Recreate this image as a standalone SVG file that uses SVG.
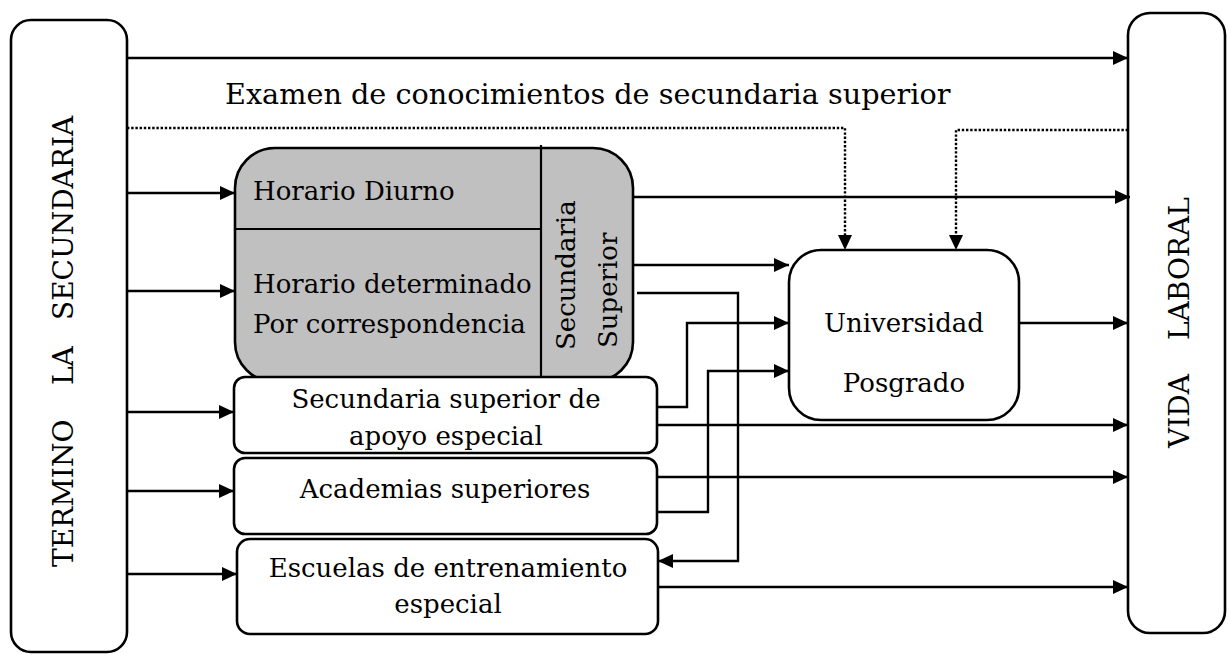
<svg xmlns="http://www.w3.org/2000/svg" width="1229" height="654" viewBox="0 0 1229 654">
<defs>
<marker id="ah" markerUnits="userSpaceOnUse" markerWidth="16" markerHeight="14" refX="15" refY="7" orient="auto">
<path d="M0,0 L15,7 L0,14 z" fill="#000"/>
</marker>
<style>
.box{fill:#fff;stroke:#000;stroke-width:2.6}
.gray{fill:#c0c0c0;stroke:#000;stroke-width:2.6}
.ln{fill:none;stroke:#000;stroke-width:2.2}
.arr{fill:none;stroke:#000;stroke-width:2.4;marker-end:url(#ah)}
.dot{fill:none;stroke:#000;stroke-width:2.4;stroke-dasharray:2.4 1.8}
.t{font-family:"DejaVu Serif","Liberation Serif",serif;font-size:26px;fill:#000}
.c{text-anchor:middle}
.big{font-size:28px}
</style>
</defs>
<rect width="1229" height="654" fill="#fff"/>

<g id="termino">
<rect class="box" x="11" y="20" width="116" height="632" rx="20"/>
<text class="t big" transform="translate(73,567) rotate(-90)"><tspan x="0">TERMINO</tspan> <tspan x="182">LA</tspan> <tspan x="247">SECUNDARIA</tspan></text>
</g>

<g id="vida-laboral">
<rect class="box" x="1128" y="13" width="97" height="620" rx="22"/>
<text class="t big" transform="translate(1189,448) rotate(-90)"><tspan x="0">VIDA</tspan> <tspan x="108">LABORAL</tspan></text>
</g>

<g id="examen-label">
<text class="t" x="225" y="104" style="font-size:28.7px">Examen de conocimientos de secundaria superior</text>
</g>

<g id="secundaria-superior">
<rect class="gray" x="235" y="148" width="398" height="234" rx="40"/>
<line class="ln" x1="541" y1="145" x2="541" y2="381"/>
<line class="ln" x1="235" y1="229" x2="541" y2="229"/>
<text class="t" x="253" y="200">Horario Diurno</text>
<text class="t" x="253" y="293">Horario determinado</text>
<text class="t" x="253" y="333">Por correspondencia</text>
<text class="t" transform="translate(575,350) rotate(-90)">Secundaria</text>
<text class="t" transform="translate(617,348) rotate(-90)">Superior</text>
</g>

<g id="apoyo-especial">
<rect class="box" x="234" y="377" width="423" height="76" rx="11"/>
<text class="t c" x="446" y="408">Secundaria superior de</text>
<text class="t c" x="446" y="445">apoyo especial</text>
</g>

<g id="academias">
<rect class="box" x="234" y="458" width="423" height="76" rx="11"/>
<text class="t c" x="445" y="498">Academias superiores</text>
</g>

<g id="escuelas">
<rect class="box" x="237" y="539" width="421" height="95" rx="13"/>
<text class="t c" x="448" y="577">Escuelas de entrenamiento</text>
<text class="t c" x="448" y="613">especial</text>
</g>

<g id="universidad">
<rect class="box" x="789" y="250" width="230" height="170" rx="32"/>
<text class="t c" x="904" y="332">Universidad</text>
<text class="t c" x="904" y="392">Posgrado</text>
</g>

<g id="connectors">
<line class="arr" x1="127" y1="58" x2="1128" y2="58"/>
<polyline class="dot" points="127,128 845,128 845,236"/>
<polyline class="dot" points="1128,130 956,130 956,236"/>
<line class="arr" x1="845" y1="236" x2="845" y2="250" style="stroke:none"/>
<line class="arr" x1="956" y1="236" x2="956" y2="250" style="stroke:none"/>
<line class="arr" x1="127" y1="193" x2="235" y2="193"/>
<line class="arr" x1="127" y1="291" x2="235" y2="291"/>
<line class="arr" x1="127" y1="412" x2="234" y2="412"/>
<line class="arr" x1="127" y1="491" x2="234" y2="491"/>
<line class="arr" x1="127" y1="574" x2="237" y2="574"/>
<line class="arr" x1="633" y1="197" x2="1130" y2="197"/>
<line class="arr" x1="633" y1="265" x2="789" y2="265"/>
<polyline class="arr" points="637,293 738,293 738,561 658,561"/>
<polyline class="arr" points="657,407 687,407 687,323 789,323"/>
<polyline class="arr" points="657,512 708,512 708,371 789,371"/>
<line class="arr" x1="657" y1="425" x2="1128" y2="425"/>
<line class="arr" x1="657" y1="477" x2="1128" y2="477"/>
<line class="arr" x1="658" y1="587" x2="1128" y2="587"/>
<line class="arr" x1="1019" y1="323" x2="1128" y2="323"/>
</g>
</svg>
